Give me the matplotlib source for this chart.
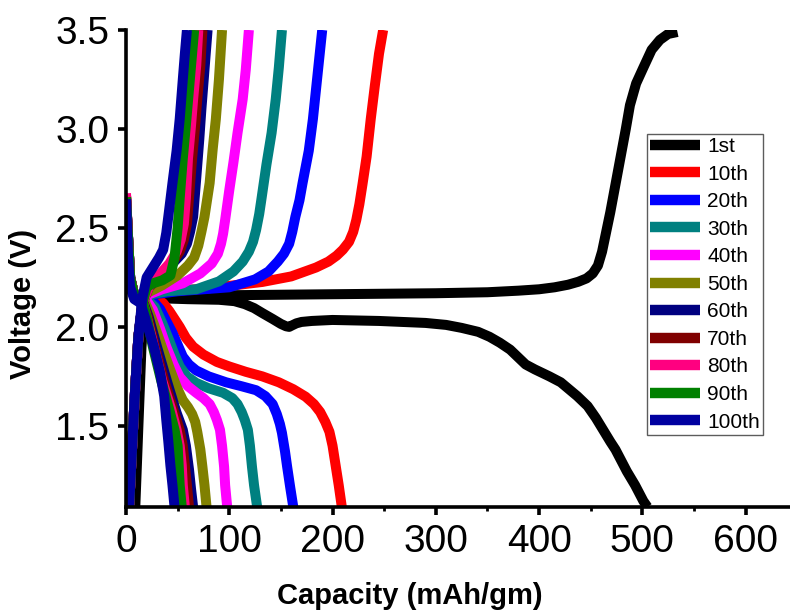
import matplotlib
matplotlib.use("Agg")
import matplotlib.pyplot as plt
from matplotlib.ticker import MultipleLocator

plt.rcParams['font.family'] = ['Liberation Sans', 'DejaVu Sans']

labels = ['1st', '10th', '20th', '30th', '40th', '50th', '60th', '70th', '80th', '90th', '100th']
colors = ['#000000', '#FF0000', '#0000FF', '#008080', '#FF00FF', '#808000',
          '#000080', '#800000', '#FF0080', '#008000', '#0000A0']

# ---- discharge curves (capacity mAh/g, voltage V) ----
d1_cap = [0, 2, 4, 8, 15, 30, 60, 90, 105, 115, 124, 132, 142, 150, 155, 158, 161, 165, 170, 180, 200, 245, 290, 310, 325, 341, 352, 362, 372, 380, 387, 396, 410, 421, 437, 447, 455, 462, 469, 474, 479, 485, 493, 501, 505]
d1_v = [2.66, 2.45, 2.25, 2.16, 2.15, 2.145, 2.14, 2.137, 2.13, 2.115, 2.095, 2.07, 2.04, 2.015, 2.003, 2.0, 2.008, 2.018, 2.025, 2.03, 2.035, 2.03, 2.02, 2.01, 1.995, 1.975, 1.95, 1.92, 1.885, 1.845, 1.81, 1.785, 1.75, 1.72, 1.65, 1.6, 1.54, 1.48, 1.42, 1.38, 1.33, 1.27, 1.2, 1.12, 1.09]
d10_cap = [0, 2, 4, 8, 15, 22, 30, 36, 42, 47, 52, 58, 65, 75, 88, 100, 116, 132, 148, 162, 174, 182, 188, 193, 197, 200, 203, 206, 209]
d10_v = [2.66, 2.45, 2.25, 2.16, 2.15, 2.15, 2.14, 2.12, 2.08, 2.04, 2.0, 1.945, 1.9, 1.86, 1.823, 1.8, 1.773, 1.75, 1.72, 1.685, 1.647, 1.61, 1.57, 1.52, 1.47, 1.4, 1.3, 1.2, 1.09]
d20_cap = [0, 2, 4, 8, 15, 22, 28, 33, 39, 45, 50, 55, 61, 68, 80, 97, 112, 126, 135, 142, 146, 149, 151, 154, 156, 159, 162]
d20_v = [2.66, 2.45, 2.25, 2.16, 2.15, 2.14, 2.12, 2.09, 2.03, 1.97, 1.91, 1.85, 1.81, 1.78, 1.75, 1.72, 1.70, 1.68, 1.65, 1.61, 1.56, 1.51, 1.465, 1.37, 1.295, 1.19, 1.09]
d30_cap = [0, 2, 4, 8, 15, 20, 28, 35, 42, 47, 52, 59, 68, 80, 94, 103, 108, 112, 115, 118, 120, 122, 124, 127]
d30_v = [2.66, 2.45, 2.25, 2.16, 2.15, 2.14, 2.10, 2.02, 1.93, 1.86, 1.80, 1.75, 1.717, 1.69, 1.667, 1.64, 1.61, 1.57, 1.53, 1.48, 1.4, 1.293, 1.2, 1.09]
d40_cap = [0, 2, 4, 8, 15, 19, 26, 33, 39, 46, 52, 60, 68, 75, 81, 85, 88, 91, 93, 95, 96, 98]
d40_v = [2.66, 2.45, 2.25, 2.16, 2.15, 2.14, 2.086, 1.99, 1.90, 1.81, 1.747, 1.70, 1.667, 1.64, 1.61, 1.57, 1.53, 1.48, 1.4, 1.293, 1.2, 1.09]
d50_cap = [0, 2, 4, 8, 15, 18, 23, 30, 36, 43, 49, 55, 60, 64, 67, 69, 72, 74, 76, 78]
d50_v = [2.66, 2.45, 2.25, 2.16, 2.15, 2.13, 2.07, 1.97, 1.88, 1.78, 1.697, 1.63, 1.595, 1.56, 1.52, 1.47, 1.38, 1.293, 1.2, 1.09]
d60_cap = [0, 2, 4, 8, 15, 22, 30, 40, 49, 55, 58, 61, 63, 65]
d60_v = [2.65, 2.45, 2.25, 2.16, 2.15, 2.05, 1.9, 1.72, 1.566, 1.48, 1.4, 1.28, 1.18, 1.09]
d70_cap = [0, 2, 4, 8, 15, 21, 28, 37, 46, 52, 55, 57, 59, 61]
d70_v = [2.665, 2.45, 2.25, 2.16, 2.15, 2.05, 1.9, 1.73, 1.58, 1.48, 1.4, 1.3, 1.2, 1.09]
d80_cap = [0, 2, 4, 8, 15, 20, 27, 35, 44, 49, 52, 54, 55, 57]
d80_v = [2.675, 2.45, 2.25, 2.16, 2.15, 2.05, 1.9, 1.73, 1.58, 1.48, 1.4, 1.3, 1.2, 1.09]
d90_cap = [0, 2, 4, 8, 15, 20, 26, 34, 42, 47, 50, 51, 52, 54]
d90_v = [2.655, 2.45, 2.25, 2.16, 2.15, 2.05, 1.9, 1.73, 1.58, 1.48, 1.4, 1.3, 1.2, 1.09]
d100_cap = [0, 1, 2, 4, 8, 14, 20, 27, 33, 37, 39, 41, 43, 45, 47]
d100_v = [2.645, 2.5, 2.35, 2.2, 2.14, 2.12, 2.02, 1.9, 1.77, 1.65, 1.53, 1.42, 1.3, 1.2, 1.09]

# ---- charge curves (capacity mAh/g, voltage V) ----
c1_cap = [9, 12, 15, 18, 22, 30, 100, 200, 300, 350, 380, 400, 415, 428, 438, 446, 452, 457, 461, 465, 469, 474, 479, 484, 488, 494, 501, 509, 517, 525, 534]
c1_v = [1.09, 1.5, 1.9, 2.1, 2.15, 2.155, 2.16, 2.165, 2.17, 2.175, 2.183, 2.19, 2.2, 2.213, 2.228, 2.245, 2.27, 2.31, 2.38, 2.48, 2.58, 2.72, 2.86, 3.0, 3.12, 3.23, 3.31, 3.4, 3.45, 3.48, 3.49]
c10_cap = [3, 6, 9, 12, 16, 20, 36, 80, 132, 160, 184, 196, 204, 210, 216, 220, 223, 226, 229, 233, 237, 241, 245, 249]
c10_v = [1.09, 1.4, 1.7, 1.95, 2.12, 2.16, 2.177, 2.195, 2.227, 2.255, 2.30, 2.33, 2.36, 2.39, 2.43, 2.48, 2.54, 2.62, 2.72, 2.86, 3.05, 3.22, 3.38, 3.5]
c20_cap = [3, 6, 9, 12, 16, 20, 50, 100, 125, 138, 147, 153, 158, 161, 164, 168, 171, 177, 181, 186, 190]
c20_v = [1.09, 1.4, 1.7, 1.95, 2.12, 2.16, 2.18, 2.20, 2.24, 2.28, 2.33, 2.37, 2.42, 2.48, 2.556, 2.64, 2.727, 2.89, 3.05, 3.3, 3.5]
c30_cap = [3, 6, 9, 12, 16, 20, 40, 68, 90, 104, 113, 119, 123, 126, 129, 131, 136, 141, 145, 148, 151]
c30_v = [1.09, 1.4, 1.7, 1.95, 2.12, 2.16, 2.18, 2.19, 2.23, 2.28, 2.33, 2.38, 2.43, 2.49, 2.57, 2.64, 2.82, 2.98, 3.15, 3.31, 3.5]
c40_cap = [3, 6, 9, 12, 16, 20, 35, 55, 72, 83, 89, 92, 94, 96, 100, 104, 108, 113, 116, 119]
c40_v = [1.09, 1.4, 1.7, 1.95, 2.12, 2.16, 2.19, 2.22, 2.27, 2.32, 2.37, 2.42, 2.47, 2.54, 2.69, 2.83, 2.98, 3.15, 3.3, 3.5]
c50_cap = [3, 6, 9, 12, 16, 20, 35, 50, 60, 66, 70, 73, 76, 81, 84, 87, 90, 93]
c50_v = [1.09, 1.4, 1.7, 1.95, 2.12, 2.17, 2.21, 2.26, 2.31, 2.35, 2.41, 2.48, 2.556, 2.727, 2.9, 3.05, 3.25, 3.5]
c60_cap = [3, 6, 9, 12, 16, 22, 32, 45, 54, 59, 62, 65, 68, 71, 73, 76, 79]
c60_v = [1.09, 1.4, 1.7, 1.95, 2.12, 2.2, 2.25, 2.32, 2.37, 2.42, 2.48, 2.556, 2.75, 2.95, 3.1, 3.3, 3.5]
c70_cap = [3, 6, 9, 12, 16, 22, 32, 44, 52, 56, 59, 61, 64, 67, 69, 72, 74]
c70_v = [1.09, 1.4, 1.7, 1.95, 2.12, 2.2, 2.25, 2.32, 2.38, 2.44, 2.52, 2.65, 2.85, 3.02, 3.15, 3.32, 3.5]
c80_cap = [3, 6, 9, 12, 16, 22, 30, 42, 49, 53, 56, 58, 60, 63, 65, 68, 70]
c80_v = [1.09, 1.4, 1.7, 1.95, 2.12, 2.2, 2.25, 2.32, 2.38, 2.44, 2.52, 2.65, 2.85, 3.02, 3.15, 3.32, 3.5]
c90_cap = [3, 6, 9, 12, 16, 20, 26, 35, 43, 47, 50, 52, 55, 58, 61, 64, 66]
c90_v = [1.09, 1.4, 1.7, 1.95, 2.12, 2.2, 2.22, 2.235, 2.26, 2.35, 2.5, 2.65, 2.85, 3.02, 3.2, 3.38, 3.5]
c100_cap = [3, 6, 9, 12, 16, 20, 26, 32, 36, 39, 42, 45, 49, 52, 55, 57, 59]
c100_v = [1.09, 1.4, 1.7, 1.95, 2.15, 2.25, 2.30, 2.35, 2.39, 2.475, 2.6, 2.727, 2.89, 3.05, 3.25, 3.38, 3.5]

discharge_cap = [d1_cap, d10_cap, d20_cap, d30_cap, d40_cap, d50_cap, d60_cap, d70_cap, d80_cap, d90_cap, d100_cap]
discharge_v = [d1_v, d10_v, d20_v, d30_v, d40_v, d50_v, d60_v, d70_v, d80_v, d90_v, d100_v]
charge_cap = [c1_cap, c10_cap, c20_cap, c30_cap, c40_cap, c50_cap, c60_cap, c70_cap, c80_cap, c90_cap, c100_cap]
charge_v = [c1_v, c10_v, c20_v, c30_v, c40_v, c50_v, c60_v, c70_v, c80_v, c90_v, c100_v]

fig = plt.figure(figsize=(7.9, 6.16), dpi=100)
ax = fig.add_axes([126/790, 1-507/616, 1-126/790, (507-30)/616])

lw = 7.2
for i in range(len(labels)):
    ax.plot(discharge_cap[i], discharge_v[i], color=colors[i], lw=lw,
            solid_capstyle='butt', solid_joinstyle='round', label=labels[i])
    ax.plot(charge_cap[i], charge_v[i], color=colors[i], lw=lw,
            solid_capstyle='butt', solid_joinstyle='round')

ax.set_xlim(0, 643)
ax.set_ylim(1.09, 3.5)
ax.xaxis.set_major_locator(MultipleLocator(100))
ax.xaxis.set_minor_locator(MultipleLocator(50))
ax.set_yticks([1.5, 2.0, 2.5, 3.0, 3.5])
ax.set_yticklabels(['1.5', '2.0', '2.5', '3.0', '3.5'])

for s in ['top', 'right']:
    ax.spines[s].set_visible(False)
for s in ['left', 'bottom']:
    ax.spines[s].set_linewidth(2.6)
ax.tick_params(which='major', direction='out', length=6, width=2.6, labelsize=28, pad=6)
ax.tick_params(which='minor', direction='out', length=3, width=2.0)

fig.text(410/790, 1-596/616, 'Capacity (mAh/gm)', ha='center', va='center',
         fontsize=21, fontweight='bold')
fig.text(23/790, 1-304/616, 'Voltage (V)', ha='center', va='center',
         rotation=90, fontsize=21, fontweight='bold')

leg = ax.legend(loc='upper left', bbox_to_anchor=(647/790, 1-134/616),
                bbox_transform=fig.transFigure, fontsize=15, frameon=True,
                fancybox=False, handlelength=2.4, handletextpad=0.34,
                labelspacing=0.41, borderpad=0.15, borderaxespad=0)
leg.get_frame().set_edgecolor('#333333')
leg.get_frame().set_linewidth(1.0)
for h in leg.get_lines():
    h.set_linewidth(7.5)

fig.savefig('out.png', dpi=100)
